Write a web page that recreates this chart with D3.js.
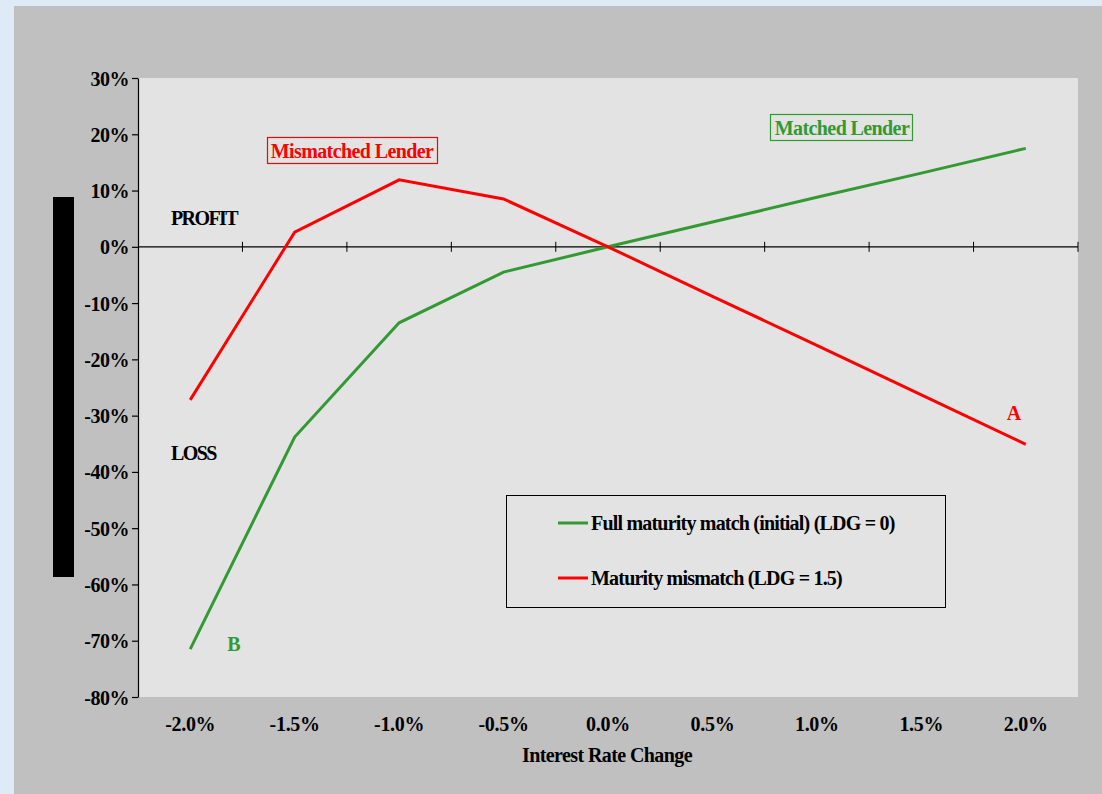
<!DOCTYPE html>
<html><head><meta charset="utf-8">
<script src="https://cdn.jsdelivr.net/npm/d3@7"></script>
<style>
html,body{margin:0;padding:0;background:#deeaf6;}
svg{display:block;}
text{font-family:"Liberation Serif","Times New Roman",serif !important;font-weight:bold;}
</style></head><body>
<svg id="chart" width="1102" height="794"></svg>
<script>
const categories = ["-2.0%","-1.5%","-1.0%","-0.5%","0.0%","0.5%","1.0%","1.5%","2.0%"];
const matchedValues = [-71.5, -33.8, -13.5, -4.5, 0.0, 4.4, 8.8, 13.1, 17.5];
const mismatchedValues = [-27.2, 2.6, 11.9, 8.5, 0.0, -8.8, -17.5, -26.3, -35.1];
const yTicks = [30,20,10,0,-10,-20,-30,-40,-50,-60,-70,-80];
const seriesNames = ["Full maturity match (initial) (LDG = 0)", "Maturity mismatch (LDG = 1.5)"];

const svg = d3.select("#chart");
const green = "#339933", red = "#ff0000";
const FS = 20, LS = -0.6;

svg.append("rect").attr("x",0).attr("y",0).attr("width",1102).attr("height",794).attr("fill","#deeaf6");
svg.append("rect").attr("x",14).attr("y",6).attr("width",1088).attr("height",788).attr("fill","#c0c0c0");

const L=138, R=1078, T=78, B=697;
svg.append("rect").attr("x",L).attr("y",T).attr("width",R-L).attr("height",B-T).attr("fill","#e3e3e3");

const x = d3.scaleBand().domain(categories).range([L,R]).padding(0);
const y = d3.scaleLinear().domain([-80,30]).range([B,T]);
const cx = d => x(d) + x.bandwidth()/2;

// y axis
const yAxis = d3.axisLeft(y).tickValues(yTicks).tickFormat(d=>d+"%").tickSize(6).tickSizeOuter(0);
const gy = svg.append("g").attr("transform",`translate(${L},0)`).call(yAxis);
gy.select(".domain").attr("stroke","#000").attr("stroke-width",1.2);
gy.selectAll(".tick line").attr("stroke","#000").attr("stroke-width",1.2);
gy.selectAll(".tick text").attr("font-size",FS).attr("fill","#000").attr("x",-9).attr("dy","0.35em").attr("letter-spacing",-0.5);

// x axis line at 0 with cross ticks
const y0 = y(0);
svg.append("line").attr("x1",L).attr("x2",R).attr("y1",y0).attr("y2",y0).attr("stroke","#000").attr("stroke-width",1.2);
const bounds = categories.map(c=>x(c)).concat([R]).slice(1);
svg.selectAll(".xtick").data(bounds).enter().append("line")
  .attr("x1",d=>d).attr("x2",d=>d).attr("y1",y0-5).attr("y2",y0+5).attr("stroke","#000").attr("stroke-width",1);

// x labels
svg.selectAll(".xlab").data(categories).enter().append("text")
  .attr("x",d=>cx(d)).attr("y",731).attr("text-anchor","middle").attr("font-size",FS).attr("letter-spacing",-0.3).text(d=>d);
svg.append("text").attr("x",607).attr("y",762).attr("text-anchor","middle").attr("font-size",FS).attr("letter-spacing",LS).text("Interest Rate Change");

// black bar (y axis title block)
svg.append("rect").attr("x",53).attr("y",197).attr("width",21).attr("height",380).attr("fill","#000");

// lines
const line = d3.line().x((d,i)=>cx(categories[i])).y(d=>y(d));
svg.append("path").datum(matchedValues).attr("d",line).attr("fill","none").attr("stroke",green).attr("stroke-width",3);
svg.append("path").datum(mismatchedValues).attr("d",line).attr("fill","none").attr("stroke",red).attr("stroke-width",3);

// annotations
svg.append("text").attr("x",171).attr("y",225).attr("font-size",FS).attr("letter-spacing",-1.6).text("PROFIT");
svg.append("text").attr("x",171).attr("y",460).attr("font-size",FS).attr("letter-spacing",-1.6).text("LOSS");
svg.append("text").attr("x",1014).attr("y",420).attr("font-size",FS).attr("fill",red).attr("text-anchor","middle").text("A");
svg.append("text").attr("x",234).attr("y",651).attr("font-size",FS).attr("fill",green).attr("text-anchor","middle").text("B");

svg.append("rect").attr("x",267.5).attr("y",137.5).attr("width",170).attr("height",26).attr("fill","none").attr("stroke",red).attr("stroke-width",1.2);
svg.append("text").attr("x",352).attr("y",158).attr("text-anchor","middle").attr("font-size",FS).attr("fill",red).attr("letter-spacing",LS).text("Mismatched Lender");
svg.append("rect").attr("x",770.5).attr("y",114.5).attr("width",142).attr("height",26).attr("fill","none").attr("stroke",green).attr("stroke-width",1.2);
svg.append("text").attr("x",842).attr("y",135).attr("text-anchor","middle").attr("font-size",FS).attr("fill",green).attr("letter-spacing",LS).text("Matched Lender");

// legend
svg.append("rect").attr("x",506.5).attr("y",495.5).attr("width",439).attr("height",112).attr("fill","none").attr("stroke","#000").attr("stroke-width",1);
const legY = [523, 578];
const cols = [green, red];
seriesNames.forEach((n,i)=>{
  svg.append("line").attr("x1",558).attr("x2",588).attr("y1",legY[i]).attr("y2",legY[i]).attr("stroke",cols[i]).attr("stroke-width",3);
  svg.append("text").attr("x",591).attr("y",legY[i]+7).attr("font-size",FS).attr("letter-spacing",-0.8).text(n);
});
</script></body></html>
